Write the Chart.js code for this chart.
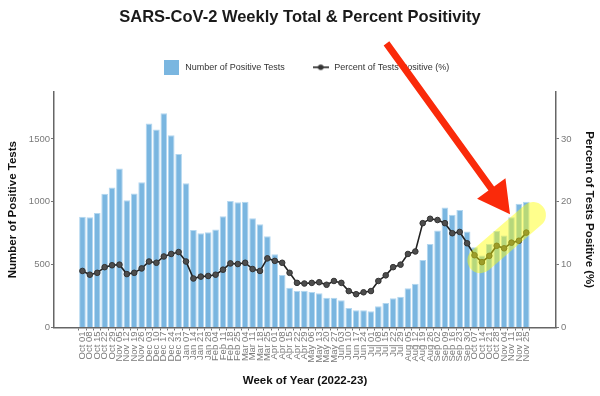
<!DOCTYPE html>
<html lang="en">
<head>
    <meta charset="UTF-8">
    <title>SARS-CoV-2 Weekly Total & Percent Positivity</title>
    <script src="https://cdn.jsdelivr.net/npm/chart.js"></script>
    <style>
        body { margin: 0; background: #fff; }
        .wrap { width: 600px; height: 396px; }
    </style>
</head>
<body>
    <div class="wrap"><canvas id="chart"></canvas></div>
    <script>
        // weekly data, Oct 2022 - Nov 2023
        const weeks = ['Oct 01', 'Oct 08', 'Oct 15', 'Oct 22', 'Oct 29', 'Nov 05', 'Nov 12', 'Nov 19', 'Nov 26',
            'Dec 03', 'Dec 10', 'Dec 17', 'Dec 24', 'Dec 31', 'Jan 07', 'Jan 14', 'Jan 21', 'Jan 28',
            'Feb 04', 'Feb 11', 'Feb 18', 'Feb 25', 'Mar 04', 'Mar 11', 'Mar 18', 'Mar 25',
            'Apr 01', 'Apr 08', 'Apr 15', 'Apr 22', 'Apr 29', 'May 06', 'May 13', 'May 20', 'May 27',
            'Jun 03', 'Jun 10', 'Jun 17', 'Jun 24', 'Jul 01', 'Jul 08', 'Jul 15', 'Jul 22', 'Jul 29',
            'Aug 05', 'Aug 12', 'Aug 19', 'Aug 26', 'Sep 02', 'Sep 09', 'Sep 16', 'Sep 23', 'Sep 30',
            'Oct 07', 'Oct 14', 'Oct 21', 'Oct 28', 'Nov 04', 'Nov 11', 'Nov 18', 'Nov 25'];

        const positiveTests = [882, 877, 911, 1063, 1113, 1264, 1013, 1065, 1156,
            1622, 1575, 1705, 1530, 1381, 1148, 776, 750, 758,
            779, 885, 1007, 997, 1001, 869, 821, 726,
            583, 418, 317, 291, 293, 283, 272, 237, 237,
            216, 155, 137, 137, 129, 169, 195, 232, 245,
            312, 349, 537, 665, 771, 954, 896, 935, 763,
            638, 572, 665, 768, 731, 877, 985, 1001];

        const percentPositive = [9.0, 8.4, 8.7, 9.6, 9.9, 10.0, 8.5, 8.7, 9.4,
            10.5, 10.3, 11.3, 11.7, 12.0, 10.5, 7.8, 8.1, 8.2,
            8.4, 9.2, 10.2, 10.1, 10.3, 9.3, 9.0, 11.0,
            10.6, 10.3, 8.7, 7.1, 7.0, 7.1, 7.2, 6.8, 7.4,
            7.1, 5.8, 5.3, 5.6, 5.8, 7.4, 8.3, 9.6, 10.0,
            11.7, 12.1, 16.6, 17.3, 17.1, 16.6, 15.0, 15.2, 13.4,
            11.5, 10.4, 11.4, 13.0, 12.6, 13.5, 13.8, 15.1];

        const countTicks = [0, 500, 1000, 1500];
        const percentTicks = [0, 10, 20, 30];

        const FONT = "'Liberation Sans', Arial, sans-serif";
        const BAR_BLUE = '#7ab6e0';

        // legend swatches
        const barSwatch = document.createElement('canvas');
        barSwatch.width = 15; barSwatch.height = 15;
        let g = barSwatch.getContext('2d');
        g.fillStyle = BAR_BLUE;
        g.fillRect(0, 0, 15, 15);

        const lineSwatch = document.createElement('canvas');
        lineSwatch.width = 16; lineSwatch.height = 8;
        g = lineSwatch.getContext('2d');
        g.strokeStyle = '#222'; g.lineWidth = 1.6;
        g.beginPath(); g.moveTo(0, 4); g.lineTo(16, 4); g.stroke();
        g.fillStyle = '#333';
        g.beginPath(); g.arc(8, 4, 2.8, 0, Math.PI * 2); g.fill();

        // leave more room under the legend, and centre it over the panel
        const legendGap = {
            id: 'legendGap',
            afterInit(chart) {
                const lg = chart.legend;
                const fit = lg.fit;
                lg.fit = function () { fit.call(this); this.height = 56; };
            },
            afterLayout(chart) {
                chart.legend.left += 6;
                chart.legend.right += 6;
            }
        };

        // yellow highlight + red arrow pasted on top of the chart
        const annotate = {
            id: 'annotate',
            afterDatasetsDraw(chart) {
                const { ctx } = chart;
                const x = chart.scales.x, y = chart.scales.y1;
                ctx.save();
                ctx.strokeStyle = 'rgba(255, 255, 0, 0.45)';
                ctx.lineWidth = 26;
                ctx.lineCap = 'round';
                ctx.beginPath();
                ctx.moveTo(x.getPixelForValue(53.8), y.getPixelForValue(10.7));
                ctx.lineTo(x.getPixelForValue(60.9), y.getPixelForValue(17.9));
                ctx.stroke();

                const sx = x.getPixelForValue(41.1), sy = y.getPixelForValue(45.2);
                const tx = x.getPixelForValue(57.8), ty = y.getPixelForValue(18.0);
                const ang = Math.atan2(ty - sy, tx - sx);
                const len = Math.hypot(tx - sx, ty - sy);
                ctx.translate(sx, sy);
                ctx.rotate(ang);
                ctx.fillStyle = '#fa2a0a';
                ctx.beginPath();
                ctx.moveTo(0, -3.5);
                ctx.lineTo(len - 32, -3.5);
                ctx.lineTo(len - 32, -17.5);
                ctx.lineTo(len, 0);
                ctx.lineTo(len - 32, 17.5);
                ctx.lineTo(len - 32, 3.5);
                ctx.lineTo(0, 3.5);
                ctx.closePath();
                ctx.fill();
                ctx.restore();
            }
        };

        new Chart(document.getElementById('chart'), {
            data: {
                datasets: [{
                    type: 'bar',
                    label: 'Number of Positive Tests',
                    data: positiveTests.map((v, i) => ({ x: i, y: v })),
                    yAxisID: 'y',
                    backgroundColor: BAR_BLUE,
                    borderColor: '#b3d7f0',
                    borderWidth: 1,
                    categoryPercentage: 1,
                    barPercentage: 0.9,
                    order: 2
                }, {
                    type: 'line',
                    label: 'Percent of Tests Positive (%)',
                    data: percentPositive.map((v, i) => ({ x: i, y: v })),
                    yAxisID: 'y1',
                    borderColor: '#222',
                    borderWidth: 1.6,
                    pointRadius: 2.8,
                    pointBackgroundColor: '#4d4d4d',
                    pointBorderColor: '#333',
                    pointBorderWidth: 1,
                    tension: 0,
                    order: 1
                }]
            },
            options: {
                responsive: true,
                maintainAspectRatio: false,
                animation: false,
                layout: { padding: 0 },
                plugins: {
                    title: {
                        display: true,
                        text: 'SARS-CoV-2 Weekly Total & Percent Positivity',
                        color: '#1a1a1a',
                        font: { family: FONT, size: 16.5, weight: 'bold' },
                        padding: { top: 8, bottom: 8 }
                    },
                    legend: {
                        labels: {
                            usePointStyle: true,
                            pointStyleWidth: 18,
                            padding: 27,
                            color: '#333',
                            font: { family: FONT, size: 9 },
                            generateLabels(chart) {
                                const items = Chart.defaults.plugins.legend.labels.generateLabels(chart);
                                items.sort((a, b) => a.datasetIndex - b.datasetIndex);
                                items[0].pointStyle = barSwatch;
                                items[1].pointStyle = lineSwatch;
                                return items;
                            }
                        }
                    },
                    tooltip: { enabled: false }
                },
                scales: {
                    x: {
                        type: 'linear',
                        min: -3.29,
                        max: 63.46,
                        afterBuildTicks: s => { s.ticks = weeks.map((w, i) => ({ value: i })); },
                        afterFit: s => { s.height = 68.5; },
                        ticks: {
                            autoSkip: false,
                            minRotation: 90,
                            maxRotation: 90,
                            padding: 1,
                            color: '#7a7a7a',
                            font: { family: FONT, size: 9.5 },
                            callback: v => weeks[v]
                        },
                        grid: { drawOnChartArea: false, tickLength: 3, color: '#777' },
                        border: { color: '#666', width: 1.5 },
                        title: {
                            display: true,
                            text: 'Week of Year (2022-23)',
                            color: '#111',
                            font: { family: FONT, size: 11.5, weight: 'bold' },
                            padding: { top: 4, bottom: 8 }
                        }
                    },
                    y: {
                        position: 'left',
                        min: 0,
                        max: 1875,
                        afterBuildTicks: s => { s.ticks = countTicks.map(v => ({ value: v })); },
                        afterFit: s => { s.width = 54; },
                        ticks: {
                            padding: 1,
                            color: '#7a7a7a',
                            font: { family: FONT, size: 9.5 },
                            callback: v => String(v)
                        },
                        grid: { drawOnChartArea: false, tickLength: 3, color: '#777' },
                        border: { color: '#666', width: 1.5 },
                        title: {
                            display: true,
                            text: 'Number of Positive Tests',
                            color: '#111',
                            font: { family: FONT, size: 11.5, weight: 'bold' },
                            padding: { top: 6, bottom: 0 }
                        }
                    },
                    y1: {
                        position: 'right',
                        min: 0,
                        max: 37.5,
                        afterBuildTicks: s => { s.ticks = percentTicks.map(v => ({ value: v })); },
                        afterFit: s => { s.width = 44; },
                        ticks: {
                            padding: 2,
                            color: '#7a7a7a',
                            font: { family: FONT, size: 9.5 },
                            callback: v => String(v)
                        },
                        grid: { drawOnChartArea: false, tickLength: 3, color: '#777' },
                        border: { color: '#666', width: 1.5 },
                        title: {
                            display: true,
                            text: 'Percent of Tests Positive (%)',
                            color: '#111',
                            font: { family: FONT, size: 11.5, weight: 'bold' },
                            padding: { top: 4, bottom: 0 }
                        }
                    }
                }
            },
            plugins: [legendGap, annotate]
        });
    </script>
</body>
</html>
